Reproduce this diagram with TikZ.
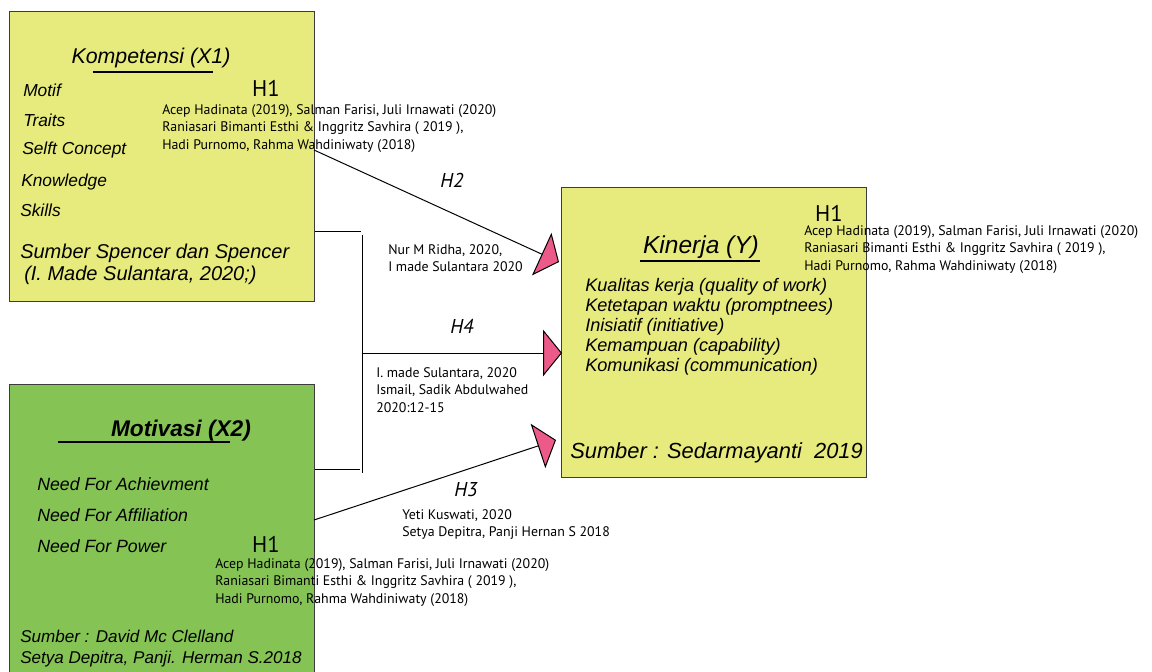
\documentclass[tikz,border=0pt]{standalone}
\usepackage{fontspec}
\setmainfont{Liberation Sans}
\newfontfamily\cf{Liberation Sans}
\newfontfamily\mf{PT Sans}
\usetikzlibrary{arrows.meta}
\definecolor{ylw}{RGB}{231,234,124}
\definecolor{grn}{RGB}{133,196,84}
\definecolor{pnk}{RGB}{236,90,138}
\definecolor{edgec}{RGB}{60,60,60}
\newcommand\citeblk[3]{%
  \node[cite] (#1a) at (#2,#3) {Acep Hadinata (2019), Salman Farisi, Juli Irnawati (2020)};
  \node[cite] (#1b) at (#2,#3+17.5) {Raniasari Bimanti Esthi \& Inggritz Savhira ( 2019 ),};
  \node[cite] (#1c) at (#2,#3+35) {Hadi Purnomo, Rahma Wahdiniwaty (2018)};}
\begin{document}
\begin{tikzpicture}[x=0.75pt,y=-0.75pt,
  box/.style={draw=edgec, line width=0.75pt, inner sep=0, anchor=north west},
  conn/.style={draw=black, line width=0.75pt},
  tipped/.style={-{Triangle[length=14.25pt,width=35pt,fill=pnk]}},
  ctext/.style={inner sep=0, anchor=base west, font=\cf\itshape\fontsize{13}{15}\selectfont},
  cite/.style={inner sep=0, anchor=base west, font=\mf\fontsize{10.4}{12}\selectfont},
  hlab/.style={inner sep=0, anchor=base, font=\mf\fontsize{17}{19}\selectfont},
  hital/.style={inner sep=0, anchor=base, font=\mf\itshape\fontsize{15}{18}\selectfont},
  uline/.style={line width=1.5pt}]
\useasboundingbox (0,0) rectangle (1152,671);
% boxes
\node[box, fill=ylw, minimum width=228.75pt, minimum height=217.5pt] (komp) at (9,11) {};
\node[box, fill=grn, minimum width=228.75pt, minimum height=225pt] (motiv) at (9,384) {};
\node[box, fill=ylw, minimum width=228.75pt, minimum height=217.5pt] (kin) at (561,187) {};
% bracket
\coordinate (bt) at (361,231);
\coordinate (bb) at (360,469);
\coordinate (vt) at (362,235);
\coordinate (vb) at (362,473);
\coordinate (vm) at (362,353);
\draw[conn] (komp.east |- bt) -- (bt);
\draw[conn] (motiv.east |- bb) -- (bb);
\draw[conn] (vt) -- (vb);
% arrows
\coordinate (h2s) at (314,150);
\coordinate (h2e) at (559,262);
\coordinate (h4e) at (562,353);
\coordinate (h3s) at (314,520);
\coordinate (h3e) at (556,440);
\draw[conn, tipped] (h2s) -- (h2e);
\draw[conn, tipped] (vm) -- (h4e);
\draw[conn, tipped] (h3s) -- (h3e);
% Kompetensi box text
\node[ctext, anchor=base, font=\cf\itshape\fontsize{16}{18}\selectfont] (kt) at (151,63) {Kompetensi (X1)};
\draw[uline] (93,72) -- (213,72);
\node[ctext] (k1) at (23,96) {Motif};
\node[ctext] (k2) at (23,126) {Traits};
\node[ctext] (k3) at (22,154) {Selft Concept};
\node[ctext] (k4) at (21,186) {Knowledge};
\node[ctext] (k5) at (20,216) {Skills};
\node[ctext, font=\cf\itshape\fontsize{15}{17}\selectfont] (k6) at (20,258) {Sumber Spencer dan Spencer};
\node[ctext, font=\cf\itshape\fontsize{15}{17}\selectfont] (k7) at (24,280) {(I. Made Sulantara, 2020;)};
\node[hlab] (h1a) at (266,96) {H1};
\citeblk{ca}{162}{114}
% Hypothesis labels
\node[hital] (h2) at (452,187) {H2};
\node[cite] (n2a) at (388,254) {Nur M Ridha, 2020,};
\node[cite] (n2b) at (388,271) {I made Sulantara 2020};
\node[hital] (h4) at (462,333) {H4};
\node[cite] (n4a) at (376,377) {I. made Sulantara, 2020};
\node[cite] (n4b) at (376,394.5) {Ismail, Sadik Abdulwahed};
\node[cite] (n4c) at (376,412) {2020:12-15};
\node[hital] (h3) at (466,496) {H3};
\node[cite] (n3a) at (402,519) {Yeti Kuswati, 2020};
\node[cite] (n3b) at (402,536.5) {Setya Depitra, Panji Hernan S 2018};
% Kinerja box text
\node[ctext, anchor=base, font=\cf\itshape\fontsize{18.4}{20}\selectfont] (yt) at (701,253) {Kinerja (Y)};
\draw[uline] (640,261) -- (760,261);
\node[ctext, font=\cf\itshape\fontsize{13.6}{15}\selectfont] (y1) at (585,291) {Kualitas kerja (quality of work)};
\node[ctext, font=\cf\itshape\fontsize{13.6}{15}\selectfont] (y2) at (585,311) {Ketetapan waktu (promptnees)};
\node[ctext, font=\cf\itshape\fontsize{13.6}{15}\selectfont] (y3) at (585,331) {Inisiatif (initiative)};
\node[ctext, font=\cf\itshape\fontsize{13.6}{15}\selectfont] (y4) at (585,351) {Kemampuan (capability)};
\node[ctext, font=\cf\itshape\fontsize{13.6}{15}\selectfont] (y5) at (585,371) {Komunikasi (communication)};
\node[ctext, font=\cf\itshape\fontsize{16.4}{18}\selectfont] (y6) at (570,458) {Sumber : Sedarmayanti\ \ 2019};
\node[hlab] (h1b) at (829,221) {H1};
\citeblk{cb}{804}{235}
% Motivasi box text
\node[ctext, anchor=base, font=\cf\bfseries\itshape\fontsize{17}{19}\selectfont] (mt) at (181,436) {Motivasi (X2)};
\draw[uline] (58,442) -- (230,442);
\node[ctext, font=\cf\itshape\fontsize{13.3}{15}\selectfont] (m1) at (37,490) {Need For Achievment};
\node[ctext, font=\cf\itshape\fontsize{13.3}{15}\selectfont] (m2) at (37,521) {Need For Affiliation};
\node[ctext, font=\cf\itshape\fontsize{13.3}{15}\selectfont] (m3) at (37,552) {Need For Power};
\node[ctext, font=\cf\itshape\fontsize{12.8}{15}\selectfont] (m4) at (20,642) {Sumber : David Mc Clelland};
\node[ctext, font=\cf\itshape\fontsize{12.8}{15}\selectfont] (m5) at (20,663) {Setya Depitra, Panji. Herman S.2018};
\node[hlab] (h1c) at (266,552) {H1};
\citeblk{cc}{215}{568}
\end{tikzpicture}
\end{document}
